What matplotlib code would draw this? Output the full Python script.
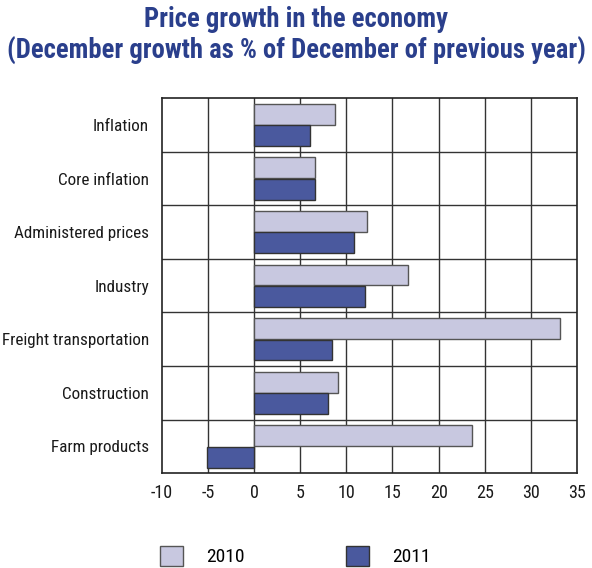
import numpy as np
import matplotlib.pyplot as plt
from matplotlib.patches import Patch

categories = ['Inflation', 'Core inflation', 'Administered prices', 'Industry',
              'Freight transportation', 'Construction', 'Farm products']
values_2010 = [8.8, 6.6, 12.2, 16.7, 33.1, 9.1, 23.6]
values_2011 = [6.1, 6.6, 10.8, 12.0, 8.4, 8.0, -5.1]
xticks = [-10, -5, 0, 5, 10, 15, 20, 25, 30, 35]

plt.rcParams['font.family'] = ['Roboto Condensed', 'Archivo Narrow', 'PT Sans Narrow',
                               'Fira Sans Condensed', 'Liberation Sans Narrow', 'DejaVu Sans']

c2010 = '#C8C8E0'
c2011 = '#4A599E'
title_color = '#2A3F8C'

fig = plt.figure(figsize=(5.92, 5.68), dpi=100)
ax = fig.add_axes([0.273, 0.167, 0.702, 0.66])

y = np.arange(len(categories))
h = 0.39
ax.barh(y - h / 2 - 0.005, values_2010, height=h, color=c2010, edgecolor='#555555', linewidth=1, zorder=3)
ax.barh(y + h / 2 + 0.005, values_2011, height=h, color=c2011, edgecolor='#333333', linewidth=1, zorder=3)

ax.set_ylim(len(categories) - 0.5, -0.5)
ax.set_xlim(-10, 35)
ax.set_yticks(y)
ax.set_yticklabels(categories, fontsize=12.3, color='#1a1a1a')
ax.set_xticks(xticks)
ax.set_xticklabels([str(t) for t in xticks], fontsize=13, color='#1a1a1a')
ax.tick_params(axis='y', length=0, pad=9)
ax.tick_params(axis='x', length=0, pad=8)

# grid lines: vertical at each tick, horizontal between categories
for t in xticks[1:-1]:
    ax.axvline(t, color='#333333', linewidth=1, zorder=1)
for b in np.arange(0.5, len(categories) - 0.5, 1):
    ax.axhline(b, color='#333333', linewidth=1, zorder=1)
for s in ax.spines.values():
    s.set_color('#222222')
    s.set_linewidth(1.2)

fig.text(0.5, 0.99, 'Price growth in the economy\n(December growth as % of December of previous year)',
         ha='center', va='top', fontsize=19.2, fontweight='bold', color=title_color, linespacing=1.2)

handles = [Patch(facecolor=c2010, edgecolor='#555555'), Patch(facecolor=c2011, edgecolor='#333333')]
fig.legend(handles, ['2010', '2011'], loc='lower left', bbox_to_anchor=(0.24, -0.028), ncol=2,
           frameon=False, fontsize=14, handlelength=1.2, handleheight=1.2,
           columnspacing=5.2, handletextpad=1.2)

fig.savefig('out.png', dpi=100)
